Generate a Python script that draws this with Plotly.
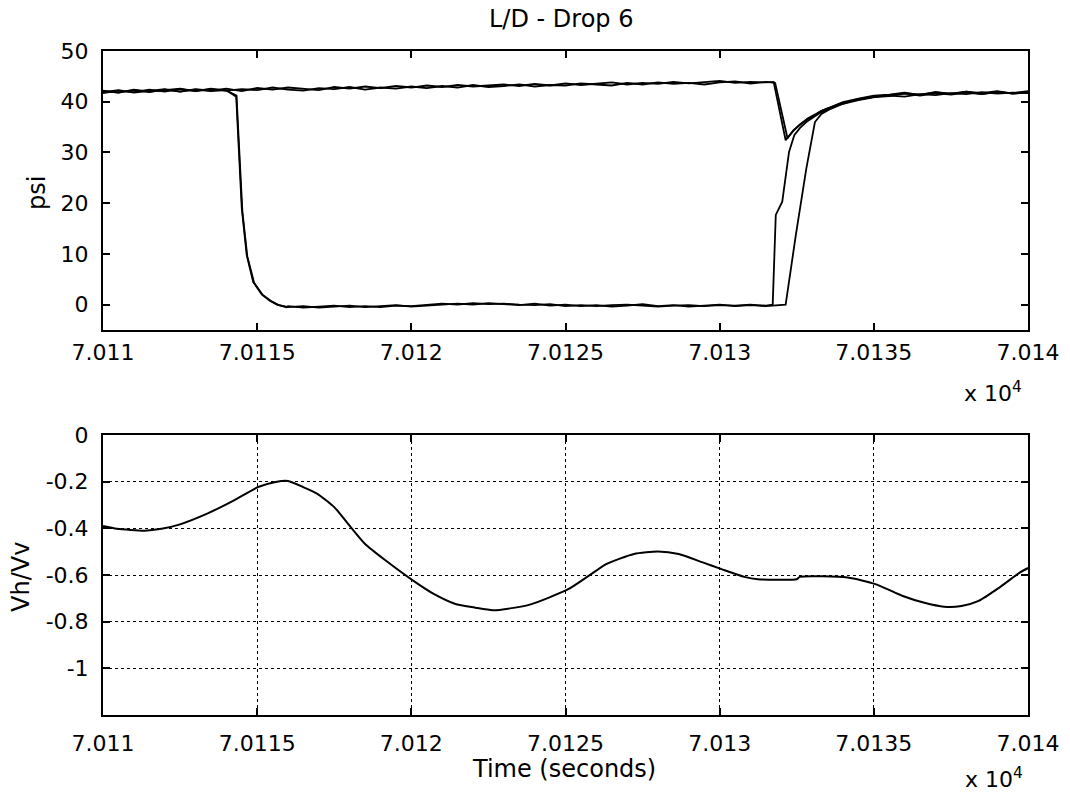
import numpy as np
import plotly.graph_objects as go

# ---------------- data (time in seconds; axis shows value x 10^4) ----------------
tick_vals = [70110, 70115, 70120, 70125, 70130, 70135, 70140]
tick_text = ["7.011", "7.0115", "7.012", "7.0125", "7.013", "7.0135", "7.014"]

psi_ticks = [0, 10, 20, 30, 40, 50]
vr_ticks = [0, -0.2, -0.4, -0.6, -0.8, -1]
vr_tick_text = ["0", "-0.2", "-0.4", "-0.6", "-0.8", "-1"]

DT = 0.5  # sample spacing of the plateau readings (s)

# Sensor A (stays high, small dip at end)
a_plateau1 = [42.1, 41.8, 42.3, 41.9, 42.4, 42.0, 42.5, 42.2, 42.6, 42.1,
              42.7, 42.4, 42.8, 42.5, 42.3, 42.9, 42.6, 43.0, 42.7, 43.1,
              42.8, 43.2, 42.9, 43.3, 43.0, 43.2, 43.4, 43.1, 43.5, 43.2,
              43.6, 43.3, 43.5, 43.8, 43.4, 43.7, 43.5, 43.9, 43.6, 43.8,
              44.1, 43.7, 43.9, 43.8]                       # 70110.0 .. 70131.5
a_trans_t = [70131.75, 70132.14, 70132.36, 70132.6, 70132.81, 70133.05,
             70133.25, 70133.5, 70133.93, 70134.5, 70135.03]
a_trans_v = [43.9, 32.4, 34.1, 35.5, 36.4, 37.2, 38.0, 38.7, 39.7, 40.4, 41.0]
a_plateau2 = [41.2, 41.0, 41.5, 41.3, 41.7, 41.5, 41.9, 41.6, 41.8, 41.7]  # 70135.5 .. 70140

# Sensor D (second high trace, overlapping A)
d_plateau1 = [41.7, 42.2, 41.9, 42.4, 42.0, 42.5, 42.1, 42.6, 42.2, 42.5,
              42.3, 42.8, 42.4, 42.2, 42.7, 42.5, 42.9, 42.4, 42.8, 42.6,
              43.0, 42.7, 43.1, 42.8, 43.3, 42.9, 43.1, 43.4, 43.0, 43.3,
              43.2, 43.6, 43.4, 43.2, 43.7, 43.4, 43.8, 43.5, 43.7, 43.4,
              43.8, 44.0, 43.6, 43.9]
d_trans_t = [70131.8, 70132.2, 70132.4, 70132.65, 70132.85, 70133.1,
             70133.3, 70133.6, 70134.0, 70134.5, 70135.0]
d_trans_v = [43.7, 32.8, 34.4, 35.7, 36.7, 37.5, 38.2, 38.9, 39.9, 40.6, 41.2]
d_plateau2 = [41.4, 41.8, 41.3, 41.9, 41.5, 42.0, 41.7, 42.1, 41.6, 41.9]

# Sensor B (drops to zero, recovers first)
b_pre = [41.9, 42.3, 41.8, 42.2, 42.5, 42.0, 42.4, 42.1, 42.3]          # 70110.0 .. 70114.0
b_drop_t = [70114.32, 70114.39, 70114.5, 70114.66, 70114.87, 70115.15,
            70115.4, 70115.64, 70115.9]
b_drop_v = [41.0, 32.1, 19.0, 9.8, 4.5, 2.0, 0.8, 0.0, -0.4]
b_flat = [-0.5, -0.3, -0.6, -0.4, -0.2, -0.5, -0.3, -0.1, -0.4, -0.2,
          0.1, 0.2, 0.0, 0.3, 0.1, -0.1, 0.2, -0.2, 0.0, -0.3,
          -0.1, -0.4, -0.2, 0.1, -0.3, -0.1, -0.4, -0.2, 0.0, -0.3,
          -0.1, -0.2]                                                   # 70116.0 .. 70131.5
b_rise_t = [70131.72, 70131.82, 70132.03, 70132.25, 70132.42, 70132.6,
            70132.81, 70133.05, 70133.25, 70133.5, 70133.93, 70134.5, 70135.03]
b_rise_v = [0.0, 17.7, 20.3, 30.1, 33.4, 34.8, 36.0, 37.0, 37.8, 38.5, 39.5, 40.3, 40.9]
b_post = [41.1, 41.6, 41.2, 41.7, 41.4, 41.8, 41.5, 42.0, 41.6, 41.8]   # 70135.5 .. 70140

# Sensor C (drops to zero, recovers last)
c_pre = [42.2, 41.8, 42.4, 42.0, 42.3, 42.6, 42.1, 42.5, 42.2]
c_drop_t = [70114.33, 70114.41, 70114.52, 70114.68, 70114.9, 70115.18,
            70115.45, 70115.7, 70115.95]
c_drop_v = [41.2, 31.5, 18.4, 9.5, 4.3, 1.9, 0.7, -0.1, -0.5]
c_flat = [-0.3, -0.6, -0.4, -0.2, -0.5, -0.3, -0.5, -0.2, -0.3, -0.1,
          0.2, 0.0, 0.3, 0.1, 0.2, 0.0, -0.1, 0.1, -0.3, -0.1,
          -0.3, -0.1, 0.0, -0.2, -0.4, -0.2, -0.1, -0.3, -0.1, -0.2,
          0.0, -0.3, -0.1]                                              # 70116.0 .. 70132.0
c_rise_t = [70132.14, 70132.47, 70132.81, 70133.09, 70133.3, 70133.6,
            70134.0, 70134.5, 70135.0]
c_rise_v = [0.0, 13.7, 26.8, 36.0, 37.6, 38.6, 39.6, 40.5, 41.0]
c_post = [41.3, 41.7, 41.4, 41.9, 41.6, 42.0, 41.5, 41.9, 41.7, 42.1]

# Vh/Vv ratio
vr_t = [70110.0, 70110.45, 70111.35, 70111.9, 70112.47, 70113.36, 70114.25,
        70115.03, 70115.6, 70116.0, 70116.49, 70116.94, 70117.5, 70117.95,
        70118.5, 70119.18, 70120.07, 70120.74, 70121.41, 70122.08, 70122.64,
        70123.2, 70123.87, 70125.09, 70125.76, 70126.32, 70127.22, 70128.0,
        70128.67, 70129.45, 70130.06, 70130.8, 70131.24, 70132.5, 70132.6,
        70134.15, 70135.05, 70135.94, 70136.61, 70137.28, 70137.84, 70138.4,
        70139.07, 70139.74, 70140.0]
vr_v = [-0.39, -0.402, -0.41, -0.402, -0.384, -0.338, -0.28,
        -0.223, -0.201, -0.197, -0.223, -0.251, -0.309, -0.381,
        -0.467, -0.539, -0.625, -0.682, -0.723, -0.74, -0.751,
        -0.743, -0.726, -0.661, -0.603, -0.553, -0.51, -0.499,
        -0.51, -0.546, -0.575, -0.608, -0.618, -0.618, -0.608,
        -0.611, -0.639, -0.69, -0.718, -0.736, -0.733, -0.711,
        -0.654, -0.589, -0.57]


def seg(t0, vals):
    return list(t0 + DT * np.arange(len(vals)))


def series(parts):
    t, v = [], []
    for tt, vv in parts:
        t += list(tt)
        v += list(vv)
    return t, v


A = series([(seg(70110.0, a_plateau1), a_plateau1), (a_trans_t, a_trans_v),
            (seg(70135.5, a_plateau2), a_plateau2)])
D = series([(seg(70110.0, d_plateau1), d_plateau1), (d_trans_t, d_trans_v),
            (seg(70135.5, d_plateau2), d_plateau2)])
B = series([(seg(70110.0, b_pre), b_pre), (b_drop_t, b_drop_v),
            (seg(70116.0, b_flat), b_flat), (b_rise_t, b_rise_v),
            (seg(70135.5, b_post), b_post)])
C = series([(seg(70110.0, c_pre), c_pre), (c_drop_t, c_drop_v),
            (seg(70116.0, c_flat), c_flat), (c_rise_t, c_rise_v),
            (seg(70135.5, c_post), c_post)])

# ---------------- figure ----------------
FONT = "DejaVu Sans"
FS = 22
FS_LBL = 24
W, H = 1070, 795
ML, MR, MT, MB = 103, 42, 51, 80
PW, PH = W - ML - MR, H - MT - MB


def px_x(px):
    return (px - ML) / PW


def px_y(py):
    return (H - MB - py) / PH


fig = go.Figure()
for t, v in (D, C, B, A):
    fig.add_trace(go.Scatter(x=t, y=v, mode="lines", xaxis="x", yaxis="y",
                             line=dict(color="black", width=1.8), hoverinfo="skip"))
fig.add_trace(go.Scatter(x=vr_t, y=vr_v, mode="lines", xaxis="x2", yaxis="y2",
                         line=dict(color="black", width=2, shape="spline", smoothing=0.6),
                         hoverinfo="skip"))

axis_common = dict(
    showline=True, linecolor="black", linewidth=2, mirror="ticks",
    ticks="inside", ticklen=7, tickwidth=1.5, tickcolor="black",
    zeroline=False, tickfont=dict(family=FONT, size=FS, color="black"),
)

fig.update_layout(
    width=W, height=H,
    margin=dict(l=ML, r=MR, t=MT, b=MB),
    paper_bgcolor="white", plot_bgcolor="white",
    showlegend=False,
    xaxis=dict(domain=[0, 1], anchor="y", range=[70110, 70140],
               tickvals=tick_vals, ticktext=tick_text, showgrid=False,
               ticklabelstandoff=2, **axis_common),
    yaxis=dict(domain=[px_y(330), 1], anchor="x", range=[-5, 50],
               tickvals=psi_ticks, showgrid=False, ticklabelstandoff=8,
               **axis_common),
    xaxis2=dict(domain=[0, 1], anchor="y2", range=[70110, 70140],
                tickvals=tick_vals, ticktext=tick_text, showgrid=True,
                gridcolor="black", griddash="dot", gridwidth=1.4,
                ticklabelstandoff=8, **axis_common),
    yaxis2=dict(domain=[0, px_y(435)], anchor="x2", range=[-1.2, 0],
                tickvals=vr_ticks, ticktext=vr_tick_text, showgrid=True,
                gridcolor="black", griddash="dot", gridwidth=1.4,
                ticklabelstandoff=8, **axis_common),
)

font = dict(family=FONT, size=FS_LBL, color="black")
ann = [
    dict(text="L/D - Drop 6", x=px_x(561), y=px_y(19), xanchor="center", yanchor="middle"),
    dict(text="psi", x=px_x(37), y=px_y(193), xanchor="center", yanchor="middle", textangle=-90),
    dict(text="Vh/Vv", x=px_x(21), y=px_y(577), xanchor="center", yanchor="middle", textangle=-90),
    dict(text="Time (seconds)", x=px_x(564), y=px_y(769), xanchor="center", yanchor="middle"),
    dict(text="x 10<sup>4</sup>", x=px_x(962), y=px_y(392), xanchor="left", yanchor="middle",
         font=dict(family=FONT, size=FS, color="black")),
    dict(text="x 10<sup>4</sup>", x=px_x(963), y=px_y(778), xanchor="left", yanchor="middle",
         font=dict(family=FONT, size=FS, color="black")),
]
for a in ann:
    a.setdefault("font", font)
    fig.add_annotation(xref="paper", yref="paper", showarrow=False, **a)

fig.write_html(
    "out.html",
    config={"displayModeBar": False},
    post_script="document.body.style.margin='0';document.body.style.overflow='hidden';",
)
